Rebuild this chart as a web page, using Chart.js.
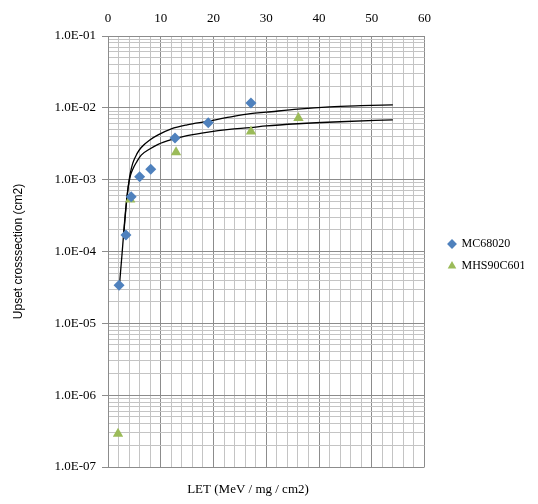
<!DOCTYPE html>
<html lang="en">
    <head>
        <title> Upset crosssection </title>
        <script src="https://cdn.jsdelivr.net/npm/chart.js@4.4.1/dist/chart.umd.min.js"></script>
        <style>
            html, body { margin: 0; padding: 0; background: #ffffff; }
            #wrap { width: 538px; height: 504px; }
        </style>
    </head>

    <body>
        <div id="wrap"><canvas id="myChart" width="538" height="504"></canvas></div>

        <script>

            // measured points
            const mcLet = [2.1, 3.4, 4.4, 6.0, 8.1, 12.7, 19.0, 27.1];
            const mcSigma = [3.4e-5, 1.7e-4, 5.8e-4, 1.1e-3, 1.4e-3, 3.8e-3, 6.2e-3, 1.17e-2];
            const mhsLet = [1.9, 4.2, 12.9, 27.1, 36.1];
            const mhsSigma = [2.9e-7, 5.3e-4, 2.4e-3, 4.7e-3, 7.2e-3];

            // fitted curves
            const fitALet = [3.0, 3.4, 3.8, 4.2, 4.7, 5.5, 6.3, 8, 9.5, 12, 15, 19, 23, 27, 30, 36, 42, 48, 54];
            const fitASigma = [1.8e-4, 4e-4, 7.5e-4, 1.2e-3, 1.7e-3, 2.3e-3, 2.8e-3, 3.6e-3, 4.2e-3, 5.1e-3, 5.8e-3, 6.5e-3, 7.4e-3, 8.3e-3, 8.7e-3, 9.6e-3, 1.03e-2, 1.07e-2, 1.1e-2];
            const fitBLet = [2.2, 2.7, 3.25, 3.8, 4.2, 4.7, 5.5, 6.3, 8, 9.5, 12, 15, 19, 23, 27, 30, 36, 44, 54];
            const fitBSigma = [3.6e-5, 1e-4, 3.2e-4, 7.7e-4, 1.1e-3, 1.4e-3, 1.8e-3, 2.2e-3, 2.7e-3, 3.1e-3, 3.6e-3, 4.1e-3, 4.6e-3, 5e-3, 5.3e-3, 5.6e-3, 6e-3, 6.4e-3, 6.8e-3];

            const xTicks = [0, 10, 20, 30, 40, 50, 60];
            const yTicks = ['1.0E-01', '1.0E-02', '1.0E-03', '1.0E-04', '1.0E-05', '1.0E-06', '1.0E-07'];

            const pts = (xs, ys) => xs.map((x, i) => ({ x: x, y: ys[i] }));

            const serif = 'Liberation Serif';

            const isDecade = v => {
                const e = Math.round(Math.log10(v));
                return Math.abs(v / Math.pow(10, e) - 1) < 1e-6;
            };

            // x title sits a bit left of the plot centre in the original
            const bottomTitle = {
                id: 'bottomTitle',
                afterDraw (chart) {
                    const c = chart.ctx;
                    c.save();
                    c.font = '13px "' + serif + '"';
                    c.fillStyle = '#000';
                    c.textAlign = 'center';
                    c.textBaseline = 'middle';
                    c.fillText('LET (MeV / mg / cm2)', 248, 490);
                    c.restore();
                }
            };

            const ctx = document.getElementById('myChart').getContext('2d');
            const myChart = new Chart(ctx, {
                data: {
                    datasets: [{
                        type: 'scatter',
                        label: 'MC68020',
                        data: pts(mcLet, mcSigma),
                        pointStyle: 'rectRot',
                        pointRadius: 5.5,
                        backgroundColor: '#4F81BD',
                        borderColor: '#4F81BD',
                        borderWidth: 0,
                        order: 1
                    }, {
                        type: 'scatter',
                        label: 'MHS90C601',
                        data: pts(mhsLet, mhsSigma),
                        pointStyle: 'triangle',
                        pointRadius: 6,
                        backgroundColor: '#9BBB59',
                        borderColor: '#9BBB59',
                        borderWidth: 0,
                        order: 1
                    }, {
                        type: 'line',
                        label: 'fitA',
                        data: pts(fitALet, fitASigma),
                        borderColor: '#000',
                        borderWidth: 1.3,
                        pointRadius: 0,
                        cubicInterpolationMode: 'monotone',
                        fill: false,
                        order: 2
                    }, {
                        type: 'line',
                        label: 'fitB',
                        data: pts(fitBLet, fitBSigma),
                        borderColor: '#000',
                        borderWidth: 1.3,
                        pointRadius: 0,
                        cubicInterpolationMode: 'monotone',
                        fill: false,
                        order: 2
                    }]
                },
                options: {
                    responsive: false,
                    animation: false,
                    layout: { padding: { left: 11, top: 6, right: 14, bottom: 0 } },
                    plugins: {
                        tooltip: { enabled: false },
                        legend: {
                            position: 'right',
                            labels: {
                                filter: item => item.text.indexOf('fit') !== 0,
                                usePointStyle: true,
                                boxWidth: 7,
                                boxHeight: 7,
                                padding: 10,
                                color: '#000',
                                font: { family: serif, size: 12 }
                            }
                        }
                    },
                    scales: {
                        x: {
                            type: 'linear',
                            position: 'top',
                            min: 0,
                            max: 60,
                            afterFit: s => { s.height = 30; },
                            afterBuildTicks: s => {
                                const t = [];
                                for (let v = 0; v <= 60; v += 2) t.push({ value: v });
                                s.ticks = t;
                            },
                            ticks: {
                                autoSkip: false,
                                maxRotation: 0,
                                padding: 10,
                                color: '#000',
                                font: { family: serif, size: 13 },
                                callback: v => xTicks.includes(v) ? String(v) : ''
                            },
                            grid: {
                                color: c => (c.tick && c.tick.value % 10 === 0) ? '#8c8c8c' : '#c4c4c4',
                                lineWidth: 1,
                                drawTicks: false
                            },
                            border: { color: '#8c8c8c' }
                        },
                        xb: {
                            type: 'linear',
                            position: 'bottom',
                            min: 0,
                            max: 60,
                            afterFit: s => { s.height = 37; },
                            ticks: { display: false },
                            grid: { display: false },
                            border: { display: false }
                        },
                        y: {
                            type: 'logarithmic',
                            min: 1e-7,
                            max: 1e-1,
                            afterFit: s => { s.width = 97; },
                            afterBuildTicks: s => {
                                const t = [];
                                for (let e = -7; e <= -1; e++) {
                                    for (let m = 1; m <= 9; m++) {
                                        const v = m * Math.pow(10, e);
                                        if (v <= 0.1000001) t.push({ value: v });
                                    }
                                }
                                s.ticks = t;
                            },
                            ticks: {
                                autoSkip: false,
                                color: '#000',
                                padding: 6,
                                font: { family: serif, size: 13 },
                                callback: v => isDecade(v) ? yTicks[-1 - Math.round(Math.log10(v))] : ''
                            },
                            grid: {
                                color: c => (c.tick && isDecade(c.tick.value)) ? '#8c8c8c' : '#c4c4c4',
                                lineWidth: 1,
                                tickLength: 6,
                                tickColor: c => (c.tick && isDecade(c.tick.value)) ? '#8c8c8c' : 'rgba(0,0,0,0)'
                            },
                            border: { color: '#8c8c8c' },
                            title: {
                                display: true,
                                text: 'Upset crosssection (cm2)',
                                color: '#000',
                                padding: { top: 0, bottom: 4 },
                                font: { family: 'Liberation Sans', size: 12 }
                            }
                        },
                        // empty gap between plot and legend
                        gap: {
                            type: 'linear',
                            position: 'right',
                            afterFit: s => { s.width = 14; },
                            ticks: { display: false },
                            grid: { display: false },
                            border: { display: false }
                        }
                    }
                },
                plugins: [bottomTitle]
            });

        </script>
    </body>
</html>
